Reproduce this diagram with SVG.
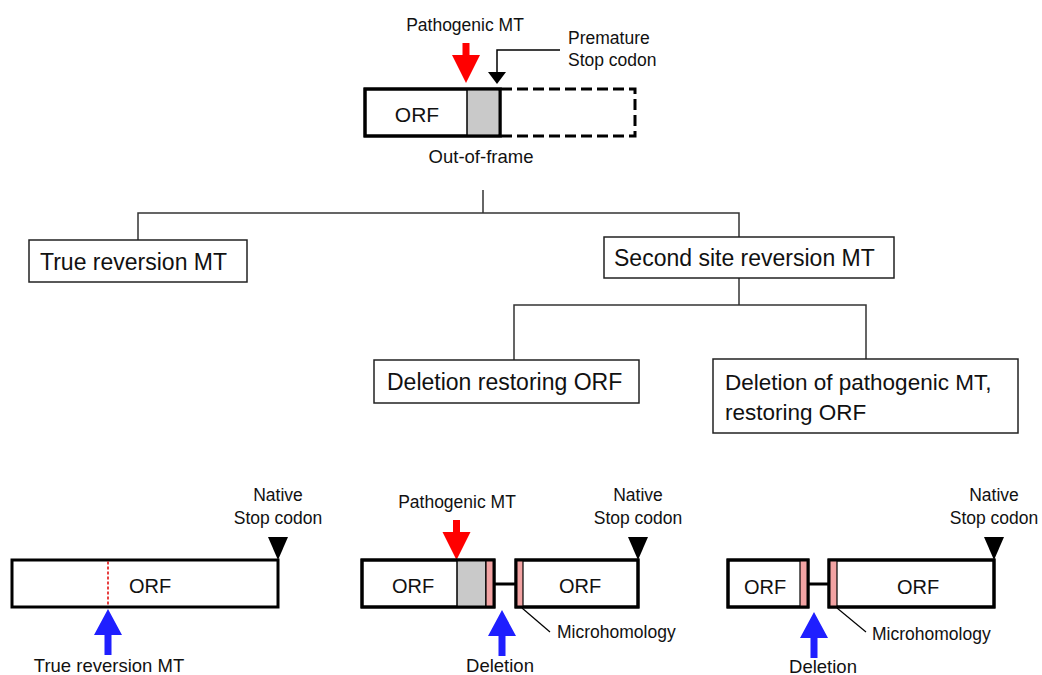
<svg xmlns="http://www.w3.org/2000/svg" width="1042" height="675" viewBox="0 0 1042 675">
<style>
  text{font-family:"Liberation Sans",Arial,sans-serif;fill:#111}
  .s{font-size:17.5px}
  .b{font-size:23px}
  .orf{font-size:20px}
  .box{fill:#fff;stroke:#222;stroke-width:1.5}
  .gene{fill:#fff;stroke:#000;stroke-width:3}
  .outline{fill:none;stroke:#000;stroke-width:3}
  .dash{fill:none;stroke:#000;stroke-width:3;stroke-dasharray:11 5}
  .conn{fill:none;stroke:#333;stroke-width:1.5}
  .grey{fill:#c9c9c9;stroke:#000;stroke-width:1.5}
  .pink{fill:#f2a3a3;stroke:#000;stroke-width:1.2}
  .thin{fill:none;stroke:#000;stroke-width:1.2}
  .red{fill:#ff0000}
  .blue{fill:#1f1fff}
  .blk{fill:#000}
</style>
<defs>
  <path id="redArrow" d="M-3.5,-40 H3.5 V-28 H14 L0,0 L-14,-28 H-3.5 Z"/>
  <path id="blueArrow" d="M-3.5,46 H3.5 V26 H14 L0,0 L-14,26 H-3.5 Z"/>
  <path id="stopTri" d="M-10,-23 H10 L0,0 Z"/>
</defs>

<!-- Top gene: out-of-frame -->
<g id="top-gene">
  <text class="s" x="465" y="31" text-anchor="middle">Pathogenic MT</text>
  <use href="#redArrow" class="red" x="466" y="83"/>
  <text class="s" x="568" y="44">Premature</text>
  <text class="s" x="568" y="66">Stop codon</text>
  <path class="thin" d="M497,73 V50 H560" style="stroke-width:1.5"/>
  <path class="blk" d="M488,72 H506 L497,84 Z"/>
  <rect class="gene" x="365" y="89" width="135" height="47"/>
  <rect class="grey" x="467" y="90.5" width="32" height="44" style="stroke:none"/>
  <line x1="467" y1="89" x2="467" y2="136" stroke="#000" stroke-width="1.5"/>
  <rect class="outline" x="365" y="89" width="135" height="47"/>
  <path class="dash" d="M501,89 H635 V136 H501"/>
  <text class="orf" x="417" y="122" text-anchor="middle" style="font-size:21px">ORF</text>
  <text class="s" x="481" y="163" text-anchor="middle" style="font-size:18.5px">Out-of-frame</text>
</g>

<!-- Tree connectors -->
<g id="connectors">
  <path class="conn" d="M483,190 V213"/>
  <path class="conn" d="M138,240 V213 H739 V237"/>
  <path class="conn" d="M739,278 V305"/>
  <path class="conn" d="M514,360 V305 H866 V359"/>
</g>

<g id="true-reversion">
  <rect class="box" x="29" y="240" width="218" height="42"/>
  <text class="b" x="40" y="270">True reversion MT</text>
</g>

<g id="second-site">
  <rect class="box" x="604" y="237" width="290" height="41"/>
  <text class="b" x="614" y="266">Second site reversion MT</text>
</g>

<g id="deletion-restoring">
  <rect class="box" x="374" y="360" width="265" height="43"/>
  <text class="b" x="387" y="390">Deletion restoring ORF</text>
</g>

<g id="deletion-of-pathogenic">
  <rect class="box" x="713" y="359" width="305" height="74"/>
  <text class="b" x="725" y="390" style="font-size:22.5px">Deletion of pathogenic MT,</text>
  <text class="b" x="725" y="420" style="font-size:22.5px">restoring ORF</text>
</g>

<!-- Bottom left: true reversion gene -->
<g id="gene-true-reversion">
  <text class="s" x="278" y="501" text-anchor="middle">Native</text>
  <text class="s" x="278" y="524" text-anchor="middle">Stop codon</text>
  <use href="#stopTri" class="blk" x="278" y="560"/>
  <rect class="gene" x="12" y="560" width="266" height="47"/>
  <line x1="108" y1="561.5" x2="108" y2="605.5" stroke="#e00000" stroke-width="1.5" stroke-dasharray="3 2"/>
  <text class="orf" x="150" y="593" text-anchor="middle">ORF</text>
  <use href="#blueArrow" class="blue" x="108" y="609"/>
  <text class="s" x="109" y="672" text-anchor="middle" style="font-size:18.5px">True reversion MT</text>
</g>

<!-- Bottom middle: deletion restoring ORF gene -->
<g id="gene-deletion-restoring">
  <text class="s" x="457" y="508" text-anchor="middle">Pathogenic MT</text>
  <use href="#redArrow" class="red" x="456.5" y="560"/>
  <text class="s" x="638" y="501" text-anchor="middle">Native</text>
  <text class="s" x="638" y="524" text-anchor="middle">Stop codon</text>
  <use href="#stopTri" class="blk" x="638" y="560"/>
  <rect class="gene" x="362" y="560" width="132" height="47"/>
  <rect class="grey" x="457" y="560" width="29" height="47"/>
  <rect class="pink" x="486" y="560" width="8" height="47"/>
  <rect class="outline" x="362" y="560" width="132" height="47"/>
  <line x1="494" y1="584" x2="516" y2="584" stroke="#000" stroke-width="3"/>
  <rect class="gene" x="516" y="560" width="122" height="47"/>
  <rect class="pink" x="516" y="560" width="7" height="47"/>
  <rect class="outline" x="516" y="560" width="122" height="47"/>
  <text class="orf" x="413" y="593" text-anchor="middle">ORF</text>
  <text class="orf" x="580" y="593" text-anchor="middle">ORF</text>
  <line class="thin" x1="522" y1="608" x2="550" y2="632"/>
  <text class="s" x="557" y="638">Microhomology</text>
  <use href="#blueArrow" class="blue" x="502" y="610"/>
  <text class="s" x="500" y="672" text-anchor="middle" style="font-size:18.5px">Deletion</text>
</g>

<!-- Bottom right: deletion of pathogenic MT gene -->
<g id="gene-deletion-pathogenic">
  <text class="s" x="994" y="501" text-anchor="middle">Native</text>
  <text class="s" x="994" y="524" text-anchor="middle">Stop codon</text>
  <use href="#stopTri" class="blk" x="994" y="560"/>
  <rect class="gene" x="728" y="560" width="80" height="47"/>
  <rect class="pink" x="800" y="560" width="8" height="47"/>
  <rect class="outline" x="728" y="560" width="80" height="47"/>
  <line x1="808" y1="584" x2="829" y2="584" stroke="#000" stroke-width="3"/>
  <rect class="gene" x="829" y="560" width="165" height="47"/>
  <rect class="pink" x="829" y="560" width="8" height="47"/>
  <rect class="outline" x="829" y="560" width="165" height="47"/>
  <text class="orf" x="765" y="594" text-anchor="middle">ORF</text>
  <text class="orf" x="918" y="594" text-anchor="middle">ORF</text>
  <line class="thin" x1="837" y1="608" x2="866" y2="632"/>
  <text class="s" x="872" y="640">Microhomology</text>
  <use href="#blueArrow" class="blue" x="814" y="612"/>
  <text class="s" x="823" y="673" text-anchor="middle" style="font-size:18.5px">Deletion</text>
</g>
</svg>
